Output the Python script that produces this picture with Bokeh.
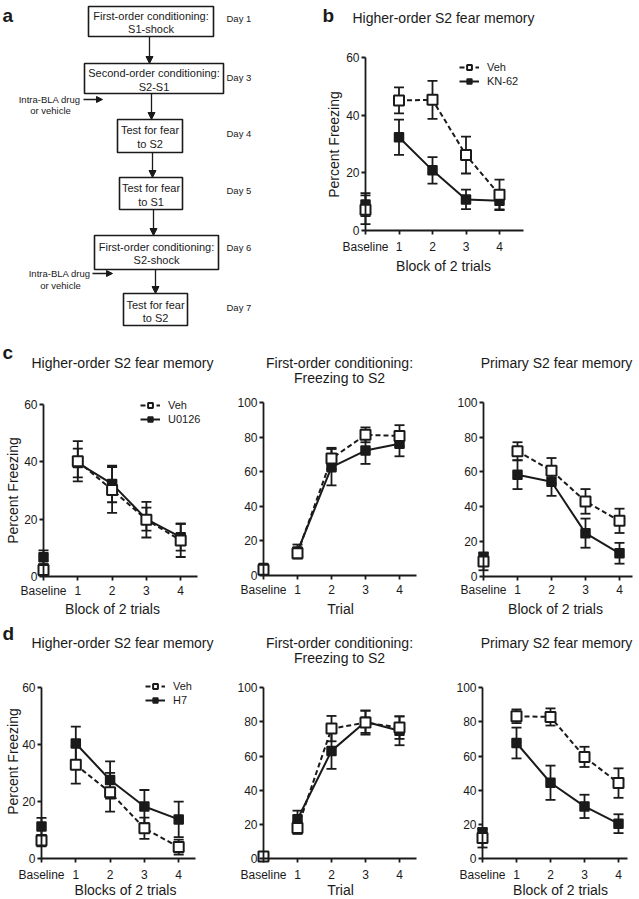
from bokeh.plotting import figure
from bokeh.models import (Range1d, FixedTicker, Legend, LegendItem, Arrow, NormalHead,
                          LinearAxis)
from bokeh.core.properties import value
from bokeh.embed import file_html
from bokeh.resources import INLINE
import math

FONT = "Liberation Sans"
INK = "#1a1a1a"
W, H = 639, 899

# ---------------- data ----------------
x_pos = [0, 1, 2, 3, 4]
x_tick_labels = ["Baseline", "1", "2", "3", "4"]

# panel b (KN-62)
b_veh = [7.2, 45.2, 45.4, 26.2, 12.4]
b_veh_err = [5.0, 4.5, 6.6, 6.4, 5.3]
b_drug = [9.0, 32.4, 20.9, 10.8, 10.3]
b_drug_err = [4.0, 6.1, 4.6, 3.4, 3.0]

# panel c (U0126)
c1_veh = [2.3, 40.2, 30.2, 19.8, 12.6]
c1_veh_err = [2.0, 7.0, 8.0, 6.2, 5.8]
c1_drug = [6.7, 39.6, 32.3, 20.0, 13.7]
c1_drug_err = [2.4, 5.0, 6.4, 4.0, 4.7]

c2_veh = [3.3, 12.9, 67.6, 81.3, 80.7]
c2_veh_err = [2.0, 3.0, 6.2, 4.3, 6.2]
c2_drug = [4.4, 13.9, 62.6, 72.2, 76.1]
c2_drug_err = [1.5, 4.0, 10.5, 7.7, 7.2]

c3_veh = [8.3, 71.9, 60.7, 43.0, 31.8]
c3_veh_err = [5.0, 5.2, 7.3, 7.1, 7.0]
c3_drug = [10.6, 58.4, 54.3, 24.7, 13.1]
c3_drug_err = [3.0, 8.3, 8.1, 8.4, 6.0]

# panel d (H7)
d1_veh = [6.4, 32.9, 23.3, 10.7, 4.1]
d1_veh_err = [2.0, 6.6, 6.8, 3.7, 2.6]
d1_drug = [11.3, 40.4, 27.6, 18.3, 13.8]
d1_drug_err = [3.0, 5.9, 6.5, 5.8, 6.2]

d2_veh = [1.4, 18.0, 76.0, 79.5, 76.6]
d2_veh_err = [1.0, 3.5, 7.4, 7.0, 6.6]
d2_drug = [1.4, 23.1, 63.0, 80.0, 74.7]
d2_drug_err = [1.0, 5.0, 10.5, 6.5, 8.4]

d3_veh = [12.1, 83.2, 82.8, 59.5, 44.2]
d3_veh_err = [5.5, 4.0, 5.0, 5.9, 8.6]
d3_drug = [15.0, 67.6, 44.4, 30.6, 20.5]
d3_drug_err = [3.0, 9.0, 10.0, 6.8, 5.5]

# flowchart (panel a)
flow_line1 = ["First-order conditioning:", "Second-order conditioning:", "Test for fear",
              "Test for fear", "First-order conditioning:", "Test for fear"]
flow_line2 = ["S1-shock", "S2-S1", "to S2", "to S1", "S2-shock", "to S2"]
flow_days = ["Day 1", "Day 3", "Day 4", "Day 5", "Day 6", "Day 7"]
drug_note = ["Intra-BLA drug", "or vehicle"]

# ---------------- canvas ----------------
p = figure(width=W, height=H, x_range=Range1d(0, W), y_range=Range1d(0, H),
           min_border=0, x_axis_location=None, y_axis_location=None,
           toolbar_location=None, output_backend="svg", title=None,
           outline_line_color=None, background_fill_color="white",
           border_fill_color="white")
p.grid.visible = False


def Y(y):
    return H - y


def txt(x, y, s, size="14px", align="center", baseline="middle", angle=0, bold=False):
    p.text(x=[x], y=[Y(y)], text=[s], text_font=value(FONT), text_font_size=size,
           text_color=INK, text_align=align, text_baseline=baseline, angle=angle,
           text_font_style="bold" if bold else "normal")


xr_extra, yr_extra = {}, {}


def subplot(name, AX, SX, AY, SY, xend, yticks, x_standoff,
            veh, veh_err, drug, drug_err):
    xn, yn = name + "_x", name + "_y"
    xr_extra[xn] = Range1d((0 - AX) / SX, (W - AX) / SX)
    yr_extra[yn] = Range1d((AY - H) / SY, AY / SY)
    rn = dict(x_range_name=xn, y_range_name=yn)
    xa = LinearAxis(fixed_location=0, bounds=(0, xend), ticker=FixedTicker(ticks=x_pos),
                    major_label_overrides={x: t for x, t in zip(x_pos, x_tick_labels)},
                    major_label_standoff=x_standoff, **rn)
    ya = LinearAxis(fixed_location=0, bounds=(0, yticks[-1]),
                    ticker=FixedTicker(ticks=yticks), major_label_standoff=2, **rn)
    for ax in (xa, ya):
        ax.axis_line_width = 1.8
        ax.axis_line_color = INK
        ax.major_tick_line_width = 1.8
        ax.major_tick_line_color = INK
        ax.major_tick_out = 4
        ax.major_tick_in = 0
        ax.minor_tick_line_color = None
        ax.major_label_text_font = FONT
        ax.major_label_text_font_size = "12px"
        ax.major_label_text_color = INK
    p.add_layout(xa, "below")
    p.add_layout(ya, "left")
    for y, e in ((drug, drug_err), (veh, veh_err)):
        lo = [a - b for a, b in zip(y, e)]
        hi = [a + b for a, b in zip(y, e)]
        p.segment(x0=x_pos, y0=lo, x1=x_pos, y1=hi, line_width=1.8, line_color=INK, **rn)
        p.scatter(x=x_pos, y=hi, marker="dash", size=10, line_width=1.8, line_color=INK, **rn)
        p.scatter(x=x_pos, y=lo, marker="dash", size=10, line_width=1.8, line_color=INK, **rn)
    l_drug = p.line(x_pos[1:], drug[1:], line_width=2, line_color=INK, **rn)
    l_veh = p.line(x_pos[1:], veh[1:], line_width=2, line_color=INK, line_dash="5 3", **rn)
    m_drug = p.scatter(x_pos, drug, marker="square", size=9, fill_color=INK,
                       line_color=INK, line_width=1.5, **rn)
    m_veh = p.scatter(x_pos, veh, marker="square", size=10, fill_color="white",
                      line_color=INK, line_width=2, **rn)
    return (l_veh, m_veh), (l_drug, m_drug)


def add_legend(rends, names, text_left_px, top_px):
    veh_r, drug_r = rends
    items = [LegendItem(label=names[0], renderers=list(veh_r)),
             LegendItem(label=names[1], renderers=list(drug_r))]
    h = 2 * 13 + 2
    gw, stand = 20, 8
    leg = Legend(items=items, location=(text_left_px - gw - stand, H - (top_px + h)),
                 glyph_width=gw, glyph_height=12, label_height=12,
                 label_text_font=FONT, label_text_font_size="11px",
                 label_text_color=INK, spacing=2, padding=0, margin=0,
                 label_standoff=stand, border_line_color=None,
                 background_fill_alpha=0)
    p.add_layout(leg)


# ---------------- panel a: flowchart ----------------
box_l = [88, 84, 117, 119, 94, 123]
box_r = [213, 223, 182, 182, 218, 187]
box_t = [6, 63, 119, 177, 235, 293]
box_b = [36, 93, 152, 209, 269, 325]
txt1_y = [15, 72, 129, 187, 246, 304]
txt2_y = [28, 86, 143, 201, 259, 317]
day_y = [18, 77, 133, 190, 247, 307]
cx = [(a + b) / 2 for a, b in zip(box_l, box_r)]
p.quad(left=box_l, right=box_r, top=[Y(v) for v in box_t], bottom=[Y(v) for v in box_b],
       fill_color="white", line_color=INK, line_width=1.6)
common = dict(text_font=value(FONT), text_color=INK, text_align="center",
              text_baseline="middle")
p.text(x=cx, y=[Y(v) for v in txt1_y], text=flow_line1, text_font_size="11px", **common)
p.text(x=cx, y=[Y(v) for v in txt2_y], text=flow_line2, text_font_size="11px", **common)
p.text(x=[226] * 6, y=[Y(v) for v in day_y], text=flow_days, text_font_size="9.5px",
       text_font=value(FONT), text_color=INK, text_align="left", text_baseline="middle")
arrow_x = [149, 151, 152, 153, 155]
for i in range(5):
    p.add_layout(Arrow(end=NormalHead(size=7, fill_color=INK, line_color=INK),
                       x_start=arrow_x[i], y_start=Y(box_b[i]), x_end=arrow_x[i],
                       y_end=Y(box_t[i + 1]), line_width=1.3, line_color=INK))
for (xs, xe, yy, rx, vx, vy) in ((83, 102, 99, 80, 50, 110), (92, 112, 273, 90, 60, 285)):
    p.add_layout(Arrow(end=NormalHead(size=6, fill_color=INK, line_color=INK),
                       x_start=xs, y_start=Y(yy), x_end=xe, y_end=Y(yy),
                       line_width=1.3, line_color=INK))
    txt(rx, yy, drug_note[0], size="9.5px", align="right")
    txt(vx, vy, drug_note[1], size="9.5px")
txt(2, 15, "a", size="19px", align="left", baseline="alphabetic", bold=True)

# ---------------- panel b ----------------
r = subplot("b", 365, 33.5, 230, 2.878, 4.72, [0, 20, 40, 60], 5,
            b_veh, b_veh_err, b_drug, b_drug_err)
add_legend(r, ["Veh", "KN-62"], 487, 58.5)
txt(322, 15, "b", size="19px", align="left", baseline="alphabetic", bold=True)
txt(443, 17, "Higher-order S2 fear memory")
txt(333, 144, "Percent Freezing", angle=math.pi / 2)
txt(443, 265, "Block of 2 trials")

# ---------------- row c ----------------
r = subplot("c1", 43, 34.3, 576, 2.867, 4.48, [0, 20, 40, 60], 3,
            c1_veh, c1_veh_err, c1_drug, c1_drug_err)
add_legend(r, ["Veh", "U0126"], 168, 396.5)
txt(2, 352, "c", size="19px", align="left", baseline="alphabetic", bold=True)
txt(122, 362, "Higher-order S2 fear memory")
txt(12, 490, "Percent Freezing", angle=math.pi / 2)
txt(112, 608, "Block of 2 trials")

subplot("c2", 263, 34, 575, 1.73, 4.49, [0, 20, 40, 60, 80, 100], 3,
        c2_veh, c2_veh_err, c2_drug, c2_drug_err)
txt(339, 362, "First-order conditioning:")
txt(339, 377, "Freezing to S2")
txt(340, 608, "Trial")

subplot("c3", 483, 34, 575.5, 1.735, 4.37, [0, 20, 40, 60, 80, 100], 3,
        c3_veh, c3_veh_err, c3_drug, c3_drug_err)
txt(556, 362, "Primary S2 fear memory")
txt(555, 608, "Block of 2 trials")

# ---------------- row d ----------------
r = subplot("d1", 41, 34.3, 858.3, 2.855, 4.5, [0, 20, 40, 60], 5,
            d1_veh, d1_veh_err, d1_drug, d1_drug_err)
add_legend(r, ["Veh", "H7"], 173, 677.5)
txt(2, 633, "d", size="19px", align="left", baseline="alphabetic", bold=True)
txt(122, 642, "Higher-order S2 fear memory")
txt(12, 761, "Percent Freezing", angle=math.pi / 2)
txt(125, 889, "Blocks of 2 trials")

subplot("d2", 263, 34, 858.3, 1.713, 4.49, [0, 20, 40, 60, 80, 100], 5,
        d2_veh, d2_veh_err, d2_drug, d2_drug_err)
txt(339, 642, "First-order conditioning:")
txt(339, 657, "Freezing to S2")
txt(340, 889, "Trial")

subplot("d3", 482, 34, 858.3, 1.713, 4.25, [0, 20, 40, 60, 80, 100], 5,
        d3_veh, d3_veh_err, d3_drug, d3_drug_err)
txt(556, 642, "Primary S2 fear memory")
txt(560, 889, "Block of 2 trials")

p.extra_x_ranges = xr_extra
p.extra_y_ranges = yr_extra

open("out.html", "w").write(file_html(p, INLINE))
